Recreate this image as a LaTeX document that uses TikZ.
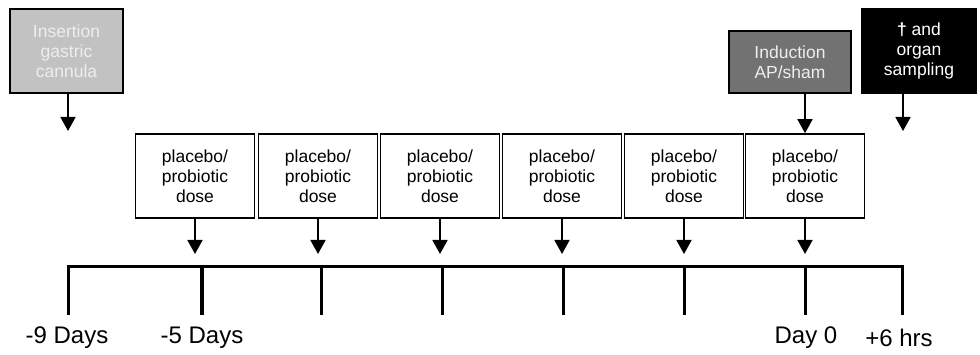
\documentclass[tikz,border=0pt]{standalone}
\usepackage{fontspec}
\setmainfont{Liberation Sans}
\usetikzlibrary{arrows.meta}
\definecolor{lightbox}{HTML}{C2C2C2}
\definecolor{midbox}{HTML}{727272}
\definecolor{lighttext}{HTML}{EEEEEE}
\begin{document}
\begin{tikzpicture}[x=1pt,y=-1pt,
  box/.style={draw=black, line width=1.6pt, inner sep=0pt, align=center,
              font=\fontsize{17.5}{20}\selectfont},
  dosebox/.style={box, minimum width=119pt, minimum height=84pt},
  arr/.style={line width=1.8pt, -{Triangle[width=15pt,length=14pt]}},
  axis/.style={line width=3pt},
  lbl/.style={font=\fontsize{24}{27}\selectfont, inner sep=0pt}]
\useasboundingbox (0,0) rectangle (980,355);

% top boxes
\node[box, fill=lightbox, text=lighttext, minimum width=113pt, minimum height=84pt] (ins) at (66.5,51) {Insertion\\gastric\\cannula};
\node[box, fill=midbox, text=lighttext, minimum width=122pt, minimum height=62pt] (ind) at (790,62) {Induction\\AP/sham};
\node[box, fill=black, text=white, minimum width=114pt, minimum height=84pt] (death) at (919,51) {\textbf{†} and\\organ\\sampling};

% dose boxes
\foreach \i/\x in {1/195,2/318,3/440,4/562,5/684,6/805}{
  \node[dosebox] (d\i) at (\x,176) {placebo/\\probiotic\\dose};
  \coordinate (e\i) at (\x,254);
  \draw[arr] (d\i.south) -- (e\i);
}

% arrows from top boxes
\coordinate (insE) at (68,131);
\coordinate (deathE) at (903,131);
\draw[arr] (ins.south -| insE) -- (insE);
\draw[arr] (ind.south -| d6) -- (d6.north);
\draw[arr] (death.south -| deathE) -- (deathE);

% timeline
\coordinate (t0) at (68,267);
\coordinate (t1) at (202,267);
\coordinate (t2) at (321,267);
\coordinate (t3) at (442,267);
\coordinate (t4) at (563,267);
\coordinate (t5) at (684,267);
\coordinate (t6) at (805,267);
\coordinate (t7) at (902,267);
\draw[axis] ([xshift=-1.5pt]t0) -- ([xshift=1.5pt]t7);
\foreach \t in {t0,t2,t3,t4,t5,t6,t7}{
  \draw[axis] (\t) -- ++(0,48);
}
\draw[line width=4pt] (t1) -- ++(0,48);

% labels
\node[lbl] (l0) at (67,338) {-9 Days};
\node[lbl] (l1) at (202,338) {-5 Days};
\node[lbl] (l6) at (806,338) {Day 0};
\node[lbl] (l7) at (899,338) {+6 hrs};
\end{tikzpicture}
\end{document}
